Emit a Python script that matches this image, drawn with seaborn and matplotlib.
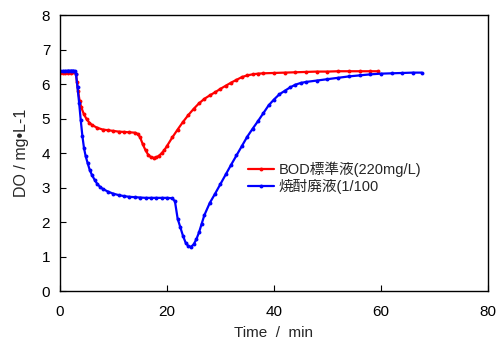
import matplotlib
matplotlib.use('Agg')
import matplotlib.pyplot as plt
import seaborn as sns
import pandas as pd

# BOD standard solution (red)
red_t = [0, 0.5, 1, 1.5, 2, 2.5, 3, 3.2, 3.4, 3.7, 4, 4.5, 5, 5.5, 6, 7, 8, 9, 10, 11, 12, 13, 14,
         14.6, 15, 15.5, 16, 16.5, 17, 17.6, 18, 18.5, 19, 19.5, 20, 21, 22, 23, 24, 25, 26, 27, 28,
         29, 30, 31, 32, 33, 34, 35, 36, 37, 38, 40, 42, 44, 46, 48, 50, 52, 54, 56, 58, 59.4]
red_do = [6.32, 6.32, 6.32, 6.33, 6.33, 6.34, 6.30, 6.05, 5.80, 5.50, 5.32, 5.12, 4.98, 4.88, 4.81,
          4.73, 4.68, 4.66, 4.64, 4.62, 4.61, 4.60, 4.59, 4.55, 4.45, 4.25, 4.08, 3.95, 3.88, 3.86,
          3.87, 3.92, 3.99, 4.08, 4.20, 4.45, 4.68, 4.90, 5.10, 5.28, 5.44, 5.57, 5.67, 5.76, 5.86,
          5.95, 6.04, 6.12, 6.20, 6.25, 6.28, 6.30, 6.31, 6.32, 6.33, 6.34, 6.35, 6.36, 6.36, 6.37,
          6.37, 6.37, 6.37, 6.37]

# shochu waste liquid 1/100 (blue)
blue_t = [0, 0.5, 1, 1.5, 2, 2.5, 2.8, 3, 3.3, 3.6, 3.9, 4.2, 4.5, 4.8, 5.2, 5.6, 6, 6.5, 7, 7.5,
          8, 9, 10, 11, 12, 13, 14, 15, 16, 17, 18, 19, 20, 21, 21.5, 22, 22.5, 23, 23.5, 24, 24.5,
          25, 25.5, 26, 26.5, 27, 28, 29, 30, 31, 32, 33, 34, 35, 36, 37, 38, 39, 40, 41, 42, 43,
          44, 45, 46, 48, 50, 52, 54, 56, 58, 60, 62, 64, 66, 67.6]
blue_do = [6.38, 6.38, 6.38, 6.39, 6.39, 6.39, 6.38, 6.30, 5.90, 5.45, 4.95, 4.50, 4.15, 3.92, 3.70,
           3.50, 3.36, 3.22, 3.10, 3.02, 2.96, 2.88, 2.82, 2.78, 2.75, 2.73, 2.72, 2.71, 2.70, 2.70,
           2.70, 2.70, 2.70, 2.69, 2.60, 2.10, 1.85, 1.60, 1.40, 1.30, 1.28, 1.35, 1.50, 1.70, 1.95,
           2.20, 2.55, 2.82, 3.10, 3.38, 3.66, 3.93, 4.20, 4.47, 4.70, 4.92, 5.15, 5.38, 5.55, 5.70,
           5.80, 5.90, 5.98, 6.03, 6.06, 6.10, 6.14, 6.18, 6.22, 6.25, 6.28, 6.30, 6.31, 6.32, 6.33,
           6.33]

labels = ['BOD標準液(220mg/L)', '焼酎廃液(1/100']
x_ticks = [0, 20, 40, 60, 80]
y_ticks = [0, 1, 2, 3, 4, 5, 6, 7, 8]

sns.set_style('ticks')
plt.rcParams['font.family'] = ['Liberation Sans', 'Noto Sans CJK JP', 'DejaVu Sans']

df_red = pd.DataFrame({'t': red_t, 'do': red_do})
df_blue = pd.DataFrame({'t': blue_t, 'do': blue_do})

fig = plt.figure(figsize=(4.99, 3.45), dpi=100)
ax = fig.add_axes([0.120, 0.1565, 0.858, 0.80])

kw = dict(marker='o', markersize=2.8, markeredgewidth=0, linewidth=1.6,
          estimator=None, sort=False)
sns.lineplot(data=df_red, x='t', y='do', color='#ff0000', label=labels[0], ax=ax, **kw)
sns.lineplot(data=df_blue, x='t', y='do', color='#0000ff', label=labels[1], ax=ax, **kw)

ax.set_xlim(0, 80)
ax.set_ylim(0, 8)
ax.set_xticks(x_ticks)
ax.set_yticks(y_ticks)
ax.tick_params(direction='in', length=4, width=0.8, labelsize=11, colors='black')
ax.tick_params(axis='x', pad=10)
ax.tick_params(axis='y', pad=7)
for s in ax.spines.values():
    s.set_visible(True)
    s.set_linewidth(1.0)
    s.set_color('black')

ax.set_xlabel('Time  /  min', fontsize=11, labelpad=5)
ax.set_ylabel('DO / mg•L-1', fontsize=11.5, labelpad=9)

ax.legend(loc='upper left', bbox_to_anchor=(0.425, 0.49), frameon=False, fontsize=10.5,
          handlelength=1.8, handletextpad=0.3, borderaxespad=0, labelspacing=0.15)

fig.savefig('out.png', dpi=100)
